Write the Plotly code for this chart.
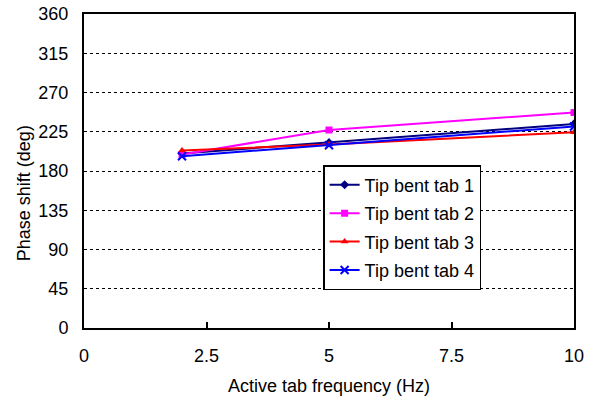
import plotly.graph_objects as go

freq = [2, 5, 10]
tab1 = [200, 212.5, 234]
tab2 = [199, 227, 247]
tab3 = [203.5, 210.5, 224.5]
tab4 = [197, 209.5, 231]
names = ["Tip bent tab 1", "Tip bent tab 2", "Tip bent tab 3", "Tip bent tab 4"]
colors = ["#000080", "#FF00FF", "#FF0000", "#0000FF"]
symbols = ["diamond", "square", "triangle-up", "x-thin"]
x_ticks = [0, 2.5, 5, 7.5, 10]
y_ticks = [0, 45, 90, 135, 180, 225, 270, 315, 360]

fig = go.Figure()
for i, (ys, name) in enumerate(zip([tab1, tab2, tab3, tab4], names)):
    sym = symbols[i]
    marker = dict(symbol=sym, size=7, color=colors[i])
    if sym == "x-thin":
        marker = dict(symbol=sym, size=8, color=colors[i], line=dict(width=2, color=colors[i]))
    fig.add_trace(go.Scatter(
        x=freq, y=ys, name=name, mode="lines+markers",
        line=dict(color=colors[i], width=2),
        marker=marker, legendgroup=name,
    ))

fig.update_layout(
    width=594, height=397,
    margin=dict(l=84, r=20, t=14, b=69),
    plot_bgcolor="white", paper_bgcolor="white",
    font=dict(family="Liberation Sans, Arial, sans-serif", size=18, color="black"),
    showlegend=True,
    legend=dict(
        x=0.488, y=0.519, xanchor="left", yanchor="top",
        bordercolor="black", borderwidth=1.5, bgcolor="white",
        font=dict(size=18), tracegroupgap=2,
        itemwidth=30,
    ),
    xaxis=dict(
        range=[0, 10], tickvals=x_ticks, ticktext=["0", "2.5", "5", "7.5", "10"],
        showgrid=False, zeroline=False, showline=True, linecolor="black", linewidth=2,
        mirror=True, ticks="inside", ticklen=6, tickcolor="black", tickwidth=1.5,
        title=dict(text="Active tab frequency (Hz)", font=dict(size=18), standoff=15),
        ticklabelstandoff=10, automargin=False,
    ),
    yaxis=dict(
        range=[0, 360], tickvals=y_ticks,
        showgrid=True, gridcolor="black", griddash="dot", gridwidth=1,
        zeroline=False, showline=True, linecolor="black", linewidth=2,
        mirror=True, ticks="",
        ticklabelstandoff=10, automargin=False,
    ),
    annotations=[dict(
        text="Phase shift (deg)", textangle=-90, showarrow=False,
        xref="paper", yref="paper", x=-0.122, y=0.43,
        xanchor="center", yanchor="middle", font=dict(size=18),
    )],
)

fig.write_html("out.html")
